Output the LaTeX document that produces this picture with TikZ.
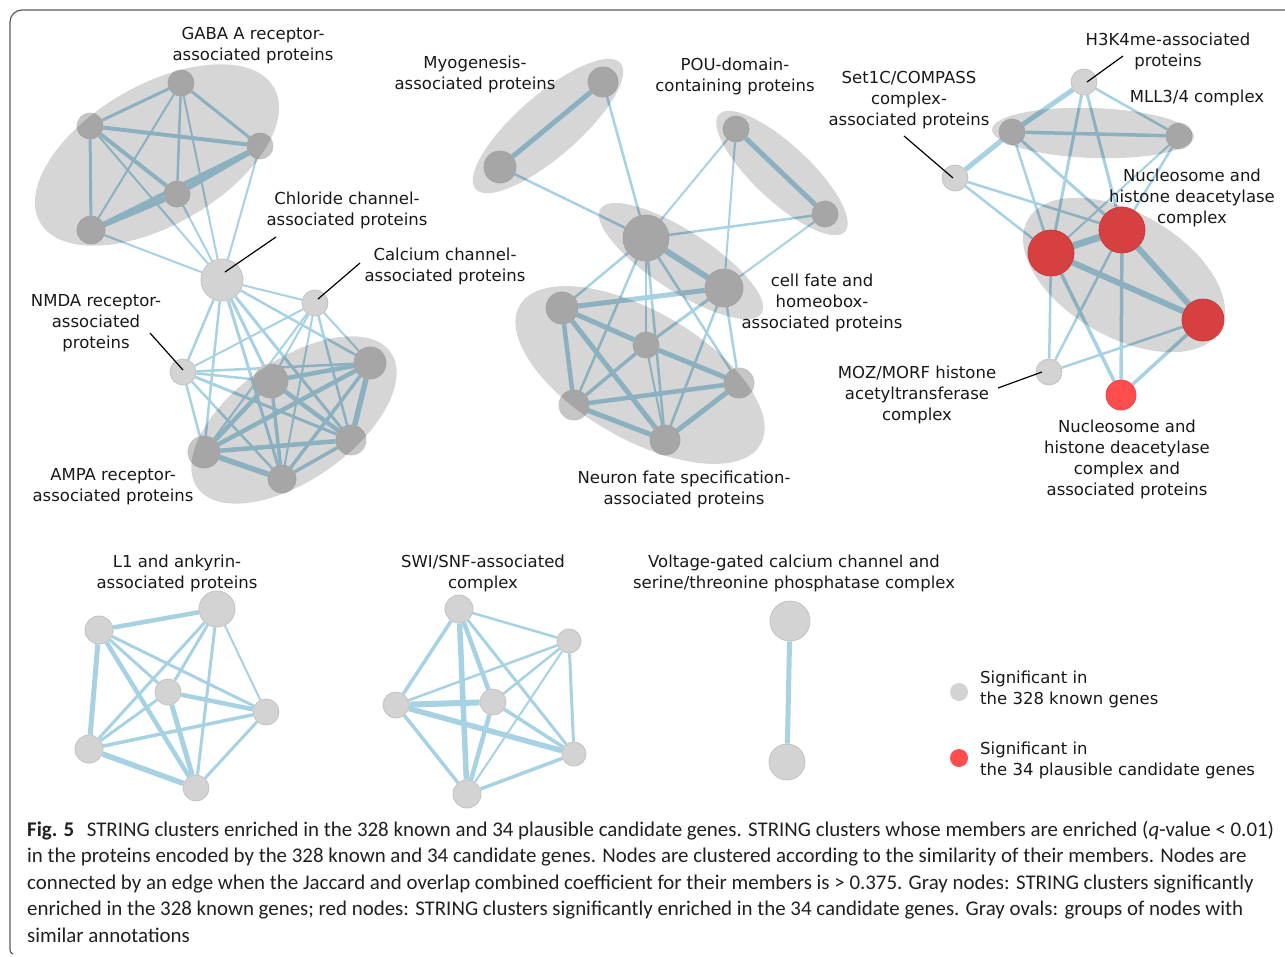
\documentclass[tikz,border=0pt]{standalone}
\usepackage{fontspec}
\newfontfamily\lblfont{DejaVu Sans}
\newfontfamily\capfont{Carlito}
\usetikzlibrary{calc}
\pgfdeclarelayer{edgelayer}
\pgfsetlayers{edgelayer,main}
\definecolor{edgec}{RGB}{166,210,228}
\definecolor{nodeg}{RGB}{211,211,211}
\definecolor{nodein}{RGB}{198,198,198}
\definecolor{nodeb}{RGB}{194,194,194}
\definecolor{nodered}{RGB}{255,77,77}
\definecolor{framec}{RGB}{90,90,90}
\definecolor{txt}{RGB}{24,24,24}
\definecolor{captxt}{RGB}{35,31,32}
\tikzset{
  gn/.style={circle, fill=nodeg, draw=nodeb, line width=0.8pt, inner sep=0pt, minimum size=#1},
  gin/.style={circle, fill=nodein, draw=nodeb, line width=0.8pt, inner sep=0pt, minimum size=#1},
  rn/.style={circle, fill=nodered, draw=nodered!92!black, line width=0.8pt, inner sep=0pt, minimum size=#1},
  ed/.style={draw=edgec, line width=#1},
  oval/.style={fill=black, fill opacity=0.16},
  lbl/.style={font=\lblfont\fontsize{16.5}{21}\selectfont, text=txt, align=center, inner sep=0pt},
  lgd/.style={font=\lblfont\fontsize{16.5}{21}\selectfont, text=txt, align=left, inner sep=0pt, anchor=west},
  leader/.style={draw=black, line width=1.2pt},
  captext/.style={font=\capfont\fontsize{20.9}{26}\selectfont, text=captxt, anchor=base west, inner sep=0pt}
}
\begin{document}
\begin{tikzpicture}[x=1pt,y=-1pt]
\useasboundingbox (0,0) rectangle (1285,956);
% frame
\draw[framec, line width=1.2pt, rounded corners=12pt] (1292,10) -- (10,10) -- (10,940);
\draw[framec, line width=1.2pt] (10,940) -- (10,949) .. controls (10,952) .. (13,954);

% ---------- nodes: left cluster ----------
\node[gin=26] (g1) at (181,83) {};
\node[gin=26] (g2) at (90,126) {};
\node[gin=26] (g3) at (260,146) {};
\node[gin=26] (g4) at (177,194) {};
\node[gin=28] (g5) at (91,230) {};
\node[gn=42] (cl) at (222,280) {};
\node[gn=26] (ca) at (315,303) {};
\node[gn=26] (nm) at (183,372) {};
\node[gin=34] (a1) at (271,381) {};
\node[gin=32] (a2) at (370,363) {};
\node[gin=30] (a3) at (351,440) {};
\node[gin=32] (a4) at (204,452) {};
\node[gin=28] (a5) at (282,479) {};
% ---------- middle cluster ----------
\node[gin=30] (m1) at (603,82) {};
\node[gin=32] (m2) at (500,167) {};
\node[gin=26] (p1) at (736,129) {};
\node[gin=26] (p2) at (825,214) {};
\node[gin=46] (bg) at (646,238) {};
\node[gin=38] (cf) at (724,288) {};
\node[gin=32] (n1) at (562,308) {};
\node[gin=26] (n2) at (646,345) {};
\node[gin=30] (n3) at (739,383) {};
\node[gin=30] (n4) at (574,405) {};
\node[gin=30] (n5) at (665,440) {};
% ---------- right cluster ----------
\node[gn=26] (h) at (1084,82) {};
\node[gin=26] (ml1) at (1012,132) {};
\node[gin=26] (ml2) at (1179,136) {};
\node[gn=26] (s) at (955,178) {};
\node[rn=46] (r1) at (1051,253) {};
\node[rn=46] (r2) at (1122,230) {};
\node[rn=42] (r3) at (1203,320) {};
\node[gn=26] (mz) at (1049,372) {};
\node[rn=30] (rb) at (1121,395) {};
% ---------- L1 ----------
\node[gn=28] (la) at (99,630) {};
\node[gn=36] (lb) at (217,609) {};
\node[gn=26] (lc) at (168,692) {};
\node[gn=26] (ld) at (266,712) {};
\node[gn=28] (le) at (89,749) {};
\node[gn=26] (lf) at (196,788) {};
% ---------- SWI/SNF ----------
\node[gn=28] (st) at (459,609) {};
\node[gn=24] (sr) at (569,641) {};
\node[gn=26] (sl) at (396,705) {};
\node[gn=26] (sc) at (493,702) {};
\node[gn=24] (sbr) at (574,754) {};
\node[gn=28] (sb) at (467,794) {};
% ---------- voltage ----------
\node[gn=40] (v1) at (790,621) {};
\node[gn=36] (v2) at (787,762) {};
% ---------- legend dots ----------
\node[circle, fill=nodeg, inner sep=0pt, minimum size=18] (lg1) at (959,692) {};
\node[circle, fill=nodered, inner sep=0pt, minimum size=18] (lg2) at (959,758) {};

% ---------- edges ----------
\begin{pgfonlayer}{edgelayer}
% GABA
\draw[ed=3] (g1) -- (g2); \draw[ed=3] (g1) -- (g3); \draw[ed=2.5] (g1) -- (g4);
\draw[ed=2] (g1) -- (g5); \draw[ed=4] (g2) -- (g3); \draw[ed=4] (g2) -- (g4);
\draw[ed=3] (g2) -- (g5); \draw[ed=5.5] (g3) -- (g4); \draw[ed=4] (g3) -- (g5);
\draw[ed=5.5] (g4) -- (g5);
\foreach \g in {g1,g2,g3,g4,g5} {\draw[ed=2] (\g) -- (cl);}
% chloride / calcium / NMDA
\draw[ed=2] (cl) -- (ca); \draw[ed=2.5] (cl) -- (nm);
\draw[ed=3] (cl) -- (a1); \draw[ed=2.5] (cl) -- (a2); \draw[ed=3] (cl) -- (a3);
\draw[ed=2.5] (cl) -- (a4); \draw[ed=3] (cl) -- (a5);
\draw[ed=2] (ca) -- (nm); \draw[ed=2] (ca) -- (a1); \draw[ed=2] (ca) -- (a2);
\draw[ed=2.5] (ca) -- (a3); \draw[ed=2] (ca) -- (a4); \draw[ed=2] (ca) -- (a5);
\draw[ed=2.5] (nm) -- (a1); \draw[ed=2.5] (nm) -- (a2); \draw[ed=3] (nm) -- (a3);
\draw[ed=2.5] (nm) -- (a4); \draw[ed=2.5] (nm) -- (a5);
% AMPA
\draw[ed=4.5] (a1) -- (a2); \draw[ed=4.5] (a1) -- (a3); \draw[ed=4.5] (a1) -- (a4);
\draw[ed=3.5] (a1) -- (a5); \draw[ed=5.5] (a2) -- (a3); \draw[ed=4.5] (a2) -- (a4);
\draw[ed=3.5] (a2) -- (a5); \draw[ed=4.5] (a3) -- (a4); \draw[ed=3.5] (a3) -- (a5);
\draw[ed=5.5] (a4) -- (a5);
% Myogenesis / POU
\draw[ed=5] (m1) -- (m2); \draw[ed=2.5] (m1) -- (bg); \draw[ed=2.5] (m2) -- (bg);
\draw[ed=5] (p1) -- (p2); \draw[ed=2] (p1) -- (bg); \draw[ed=2] (p1) -- (cf);
\draw[ed=2.5] (p2) -- (bg); \draw[ed=2] (p2) -- (cf);
% big / cell fate / neuron
\draw[ed=6] (bg) -- (cf);
\foreach \n in {n1,n2,n3,n4,n5} {\draw[ed=2.5] (bg) -- (\n);}
\draw[ed=5] (cf) -- (n1); \draw[ed=3] (cf) -- (n2); \draw[ed=2.5] (cf) -- (n3);
\draw[ed=2.5] (cf) -- (n5);
\draw[ed=5] (n1) -- (n2); \draw[ed=5] (n2) -- (n3); \draw[ed=4.5] (n1) -- (n4);
\draw[ed=5] (n1) -- (n5); \draw[ed=3.5] (n2) -- (n4); \draw[ed=2] (n2) -- (n5);
\draw[ed=4.5] (n3) -- (n4); \draw[ed=5] (n3) -- (n5); \draw[ed=5] (n4) -- (n5);
% right cluster
\draw[ed=5] (s) -- (ml1); \draw[ed=5] (ml1) -- (h); \draw[ed=2.5] (h) -- (ml2);
\draw[ed=3] (h) -- (r1); \draw[ed=3] (h) -- (r2); \draw[ed=3.5] (ml1) -- (ml2);
\draw[ed=2.5] (ml1) -- (r1); \draw[ed=3] (ml1) -- (r2); \draw[ed=2] (ml2) -- (r1);
\draw[ed=2.5] (ml2) -- (r2); \draw[ed=2.5] (s) -- (r1); \draw[ed=2.5] (s) -- (r2);
\draw[ed=7] (r1) -- (r2); \draw[ed=6] (r1) -- (r3); \draw[ed=6] (r2) -- (r3);
\draw[ed=2.5] (r1) -- (mz); \draw[ed=3.5] (r1) -- (rb); \draw[ed=2.5] (r2) -- (mz);
\draw[ed=3.5] (r2) -- (rb); \draw[ed=2.5] (r3) -- (mz); \draw[ed=3.5] (r3) -- (rb);
% L1
\draw[ed=4.5] (la) -- (lb); \draw[ed=5] (la) -- (le); \draw[ed=3] (la) -- (lc);
\draw[ed=3] (la) -- (ld); \draw[ed=4.5] (la) -- (lf); \draw[ed=3] (lb) -- (lc);
\draw[ed=2] (lb) -- (ld); \draw[ed=3] (lb) -- (le); \draw[ed=3] (lb) -- (lf);
\draw[ed=4.5] (lc) -- (ld); \draw[ed=3] (lc) -- (le); \draw[ed=5] (lc) -- (lf);
\draw[ed=3.5] (ld) -- (le); \draw[ed=3] (ld) -- (lf); \draw[ed=5.5] (le) -- (lf);
% SWI/SNF
\draw[ed=2.5] (st) -- (sr); \draw[ed=3.5] (st) -- (sl); \draw[ed=4.5] (st) -- (sc);
\draw[ed=5.5] (st) -- (sb); \draw[ed=3] (st) -- (sbr); \draw[ed=2.5] (sr) -- (sl);
\draw[ed=2.5] (sr) -- (sc); \draw[ed=2] (sr) -- (sb); \draw[ed=3] (sr) -- (sbr);
\draw[ed=6] (sl) -- (sc); \draw[ed=5.5] (sl) -- (sbr); \draw[ed=3.5] (sl) -- (sb);
\draw[ed=4.5] (sc) -- (sb); \draw[ed=3.5] (sc) -- (sbr); \draw[ed=3.5] (sbr) -- (sb);
% voltage
\draw[ed=5] (v1) -- (v2);
\end{pgfonlayer}

% ---------- ovals ----------
\fill[oval, rotate around={30:(157,155)}] (157,155) ellipse [x radius=135, y radius=70];
\fill[oval, rotate around={35:(294,420)}] (294,420) ellipse [x radius=118, y radius=60];
\fill[oval, rotate around={41:(548,126)}] (548,126) ellipse [x radius=96, y radius=31];
\fill[oval, rotate around={-43:(782,173)}] (782,173) ellipse [x radius=86, y radius=28];
\fill[oval, rotate around={-33:(681,261)}] (681,261) ellipse [x radius=96, y radius=30];
\fill[oval, rotate around={-30:(640,375)}] (640,375) ellipse [x radius=139, y radius=64];
\fill[oval, rotate around={-2:(1093,133)}] (1093,133) ellipse [x radius=101, y radius=25];
\fill[oval, rotate around={-30:(1124,275)}] (1124,275) ellipse [x radius=111, y radius=62];

% ---------- labels ----------
\node[lbl] (tgaba) at (253,45.5) {GABA A receptor-\\associated proteins};
\node[lbl] (tcl) at (347,210.5) {Chloride channel-\\associated proteins};
\node[lbl] (tca) at (445,266.5) {Calcium channel-\\associated proteins};
\node[lbl] (tnm) at (96,323.5) {NMDA receptor-\\associated\\proteins};
\node[lbl] (tampa) at (113,486.5) {AMPA receptor-\\associated proteins};
\node[lbl] (tmyo) at (475,74.5) {Myogenesis-\\associated proteins};
\node[lbl] (tpou) at (735,76.5) {POU-domain-\\containing proteins};
\node[lbl] (tset) at (909,100.5) {Set1C/COMPASS\\complex-\\associated proteins};
\node[lbl] (th3) at (1168,51.5) {H3K4me-associated\\proteins};
\node[lbl] (tmll) at (1197,98) {MLL3/4 complex};
\node[lbl] (tnuc1) at (1192,197.5) {Nucleosome and\\histone deacetylase\\complex};
\node[lbl] (tcf) at (822,302.5) {cell fate and\\homeobox-\\associated proteins};
\node[lbl] (tmoz) at (917,394.5) {MOZ/MORF histone\\acetyltransferase\\complex};
\node[lbl] (tneu) at (684,489.5) {Neuron fate specification-\\associated proteins};
\node[lbl] (tnuc2) at (1127,459.5) {Nucleosome and\\histone deacetylase\\complex and\\associated proteins};
\node[lbl] (tl1) at (177,573.5) {L1 and ankyrin-\\associated proteins};
\node[lbl] (tswi) at (483,573.5) {SWI/SNF-associated\\complex};
\node[lbl] (tvg) at (794,573.5) {Voltage-gated calcium channel and\\serine/threonine phosphatase complex};
\node[lgd] (tlg1) at (980,689) {Significant in\\the 328 known genes};
\node[lgd] (tlg2) at (980,760) {Significant in\\the 34 plausible candidate genes};

% ---------- leader lines ----------
\coordinate (kcl1) at (225,272); \coordinate (kcl2) at (276,237);
\coordinate (kca1) at (318,299); \coordinate (kca2) at (360,263);
\coordinate (knm1) at (150,333); \coordinate (knm2) at (183,370);
\coordinate (kh1) at (1087,82); \coordinate (kh2) at (1123,56);
\coordinate (ks1) at (904,136); \coordinate (ks2) at (953,178);
\coordinate (kmz1) at (998,388); \coordinate (kmz2) at (1042,372);
\draw[leader] (kcl1) -- (kcl2);
\draw[leader] (kca1) -- (kca2);
\draw[leader] (knm1) -- (knm2);
\draw[leader] (kh1) -- (kh2);
\draw[leader] (ks1) -- (ks2);
\draw[leader] (kmz1) -- (kmz2);

% ---------- caption ----------
\node[captext] (c1) at (27,836) {\textbf{Fig. 5}\hspace{0.6em}STRING clusters enriched in the 328 known and 34 plausible candidate genes. STRING clusters whose members are enriched (\textit{q}-value < 0.01)};
\node[captext] (c2) at (27,862.5) {in the proteins encoded by the 328 known and 34 candidate genes. Nodes are clustered according to the similarity of their members. Nodes are};
\node[captext] (c3) at (27,889) {connected by an edge when the Jaccard and overlap combined coefficient for their members is > 0.375. Gray nodes: STRING clusters significantly};
\node[captext] (c4) at (27,915.5) {enriched in the 328 known genes; red nodes: STRING clusters significantly enriched in the 34 candidate genes. Gray ovals: groups of nodes with};
\node[captext] (c5) at (27,942) {similar annotations};
\end{tikzpicture}
\end{document}
